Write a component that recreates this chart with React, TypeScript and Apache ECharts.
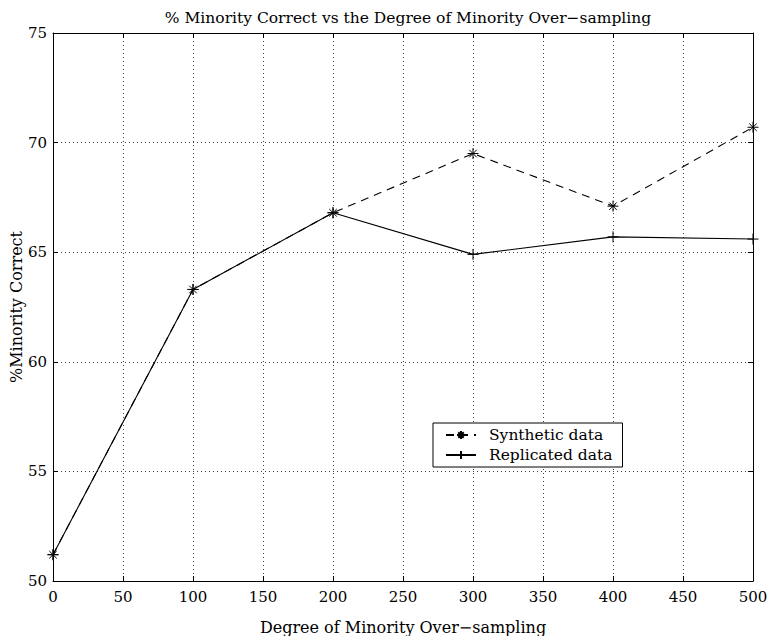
import React, { useEffect, useRef } from "react";
import * as echarts from "echarts";

const xValues = [0, 100, 200, 300, 400, 500];
const syntheticValues = [51.2, 63.3, 66.8, 69.5, 67.1, 70.7];
const replicatedValues = [51.2, 63.3, 66.8, 64.9, 65.7, 65.6];
const seriesNames = ["Synthetic data", "Replicated data"];
const titleText = "% Minority Correct vs the Degree of Minority Over\u2212sampling";
const xAxisName = "Degree of Minority Over\u2212sampling";
const yAxisName = "%Minority Correct";

const FONT = "DejaVu Serif";
const ASTERISK = "path://M5,0 L5,10 M0,5 L10,5 M1.6,1.6 L8.4,8.4 M8.4,1.6 L1.6,8.4";
const PLUS = "path://M5,0 L5,10 M0,5 L10,5";

export default function App() {
  const ref = useRef<HTMLDivElement>(null);
  useEffect(() => {
    if (!ref.current) return;
    const chart = echarts.init(ref.current, null, { renderer: "svg" });
    const grid = { left: 53, right: 14, top: 33, bottom: 55, outerBoundsMode: "none", containLabel: false };
    const gridLine = { show: true, lineStyle: { color: "#444", type: [1, 3] as any, width: 1 } };
    const axisLine = { show: true, onZero: false, lineStyle: { color: "#000", width: 1 } };
    const tick = { show: true, inside: true, length: 5, lineStyle: { color: "#000" } };
    chart.setOption({
      animation: false,
      backgroundColor: "#fff",
      title: {
        text: titleText,
        left: 403,
        textAlign: "center",
        top: 5,
        textStyle: { fontFamily: FONT, fontSize: 15.5, fontWeight: "normal", color: "#000" },
      },
      grid,
      legend: {
        left: 433,
        top: 423,
        orient: "vertical",
        data: seriesNames,
        backgroundColor: "#fff",
        borderColor: "#000",
        borderWidth: 1,
        borderRadius: 0,
        padding: [4, 10, 4, 12],
        itemGap: 4,
        itemWidth: 30,
        itemHeight: 10,
        textStyle: { fontFamily: FONT, fontSize: 15.5, color: "#000", padding: [0, 0, 0, 8] },
      },
      xAxis: [
        {
          type: "value",
          min: 0,
          max: 500,
          interval: 50,
          name: xAxisName,
          nameLocation: "middle",
          nameGap: 38,
          nameMoveOverlap: false,
          nameTextStyle: { fontFamily: FONT, fontSize: 16, color: "#000" },
          axisLine,
          axisTick: tick,
          axisLabel: { fontFamily: FONT, fontSize: 15, color: "#000", margin: 8 },
          splitLine: gridLine,
        },
        {
          type: "value",
          position: "top",
          min: 0,
          max: 500,
          interval: 50,
          axisLine,
          axisTick: tick,
          axisLabel: { show: false },
          splitLine: { show: false },
        },
      ],
      yAxis: [
        {
          type: "value",
          min: 50,
          max: 75,
          interval: 5,
          name: yAxisName,
          nameLocation: "middle",
          nameGap: 29,
          nameMoveOverlap: false,
          nameTextStyle: { fontFamily: FONT, fontSize: 16, color: "#000" },
          axisLine,
          axisTick: tick,
          axisLabel: { fontFamily: FONT, fontSize: 15, color: "#000", margin: 6 },
          splitLine: gridLine,
        },
        {
          type: "value",
          position: "right",
          min: 50,
          max: 75,
          interval: 5,
          axisLine,
          axisTick: tick,
          axisLabel: { show: false },
          splitLine: { show: false },
        },
      ],
      series: [
        {
          name: seriesNames[1],
          type: "line",
          data: xValues.map((x, i) => [x, replicatedValues[i]]),
          symbol: PLUS,
          symbolSize: 11,
          showAllSymbol: true,
          lineStyle: { color: "#000", width: 1.1, type: "solid" },
          itemStyle: { color: "#000", borderColor: "#000", borderWidth: 1 },
          z: 2,
        },
        {
          name: seriesNames[0],
          type: "line",
          data: xValues.map((x, i) => [x, syntheticValues[i]]),
          symbol: ASTERISK,
          symbolSize: 11,
          showAllSymbol: true,
          lineStyle: { color: "#000", width: 1.1, type: [8, 6] as any },
          itemStyle: { color: "#000", borderColor: "#000", borderWidth: 1 },
          z: 3,
        },
      ],
    });
    return () => chart.dispose();
  }, []);
  return (
    <div
      ref={ref}
      style={{ position: "absolute", left: 0, top: 0, width: 767, height: 636 }}
    />
  );
}
